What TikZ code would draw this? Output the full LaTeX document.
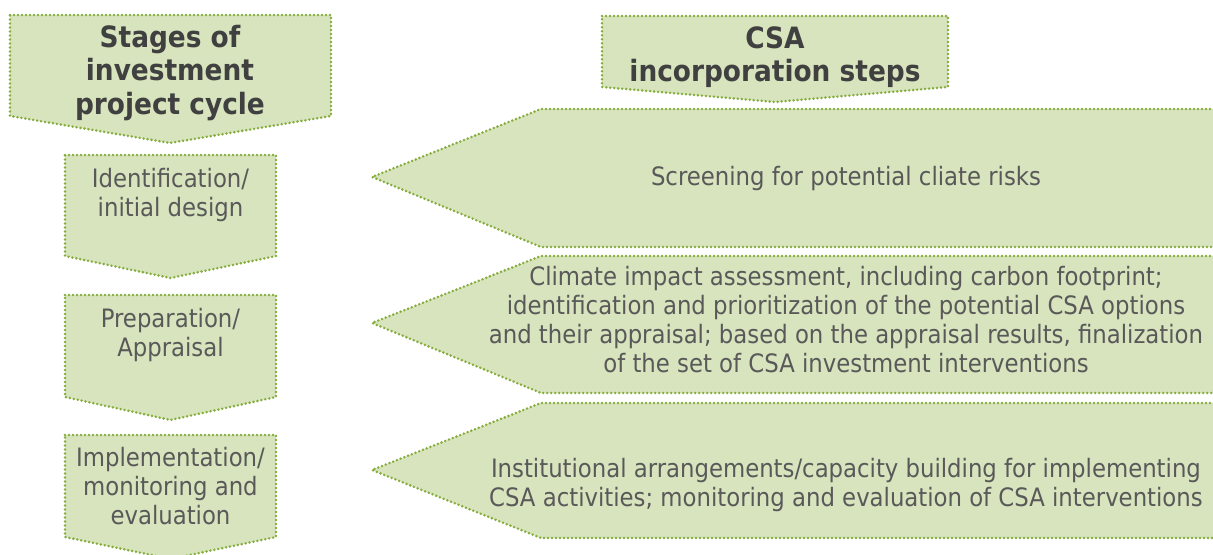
\documentclass[tikz,border=0pt]{standalone}
\usepackage{fontspec}
\setmainfont{DejaVu Sans Condensed}
\definecolor{boxfill}{HTML}{D7E4BD}
\definecolor{boxline}{HTML}{86AC3C}
\definecolor{txtgray}{HTML}{595959}
\definecolor{headgray}{HTML}{404040}

\begin{document}
\begin{tikzpicture}[x=0.75pt, y=-0.75pt,
    stage/.style={fill=boxfill, draw=boxline, line width=2.1pt, line cap=round,
        line join=round, dash pattern=on 0pt off 3pt},
    head/.style={text=headgray, align=center, inner sep=0pt, anchor=north,
        font=\bfseries\fontsize{22}{25}\selectfont},
    body/.style={text=txtgray, align=center, inner sep=0pt, anchor=north,
        font=\fontsize{19}{21.75}\selectfont}]
    \clip (0, 0) rectangle (1213, 555);

    % column headers
    \draw[stage] (10, 15) -- (331, 15) -- (331, 116) -- (170, 143) -- (10, 116) -- cycle;
    \draw[stage] (602, 16) -- (948, 16) -- (948, 87) -- (775, 102) -- (602, 87) -- cycle;
    \node (stages) [head] at (170, 25) {Stages of\\investment\\project cycle};
    \node (csa) [head] at (775, 26) {CSA\\incorporation steps};

    % project cycle stages
    \draw[stage] (65, 155) -- (276, 155) -- (276, 256) -- (170.5, 278) -- (65, 256) -- cycle;
    \draw[stage] (65, 295) -- (276, 295) -- (276, 397) -- (170.5, 420) -- (65, 397) -- cycle;
    \draw[stage] (65, 435) -- (276, 435) -- (276, 537) -- (170.5, 559) -- (65, 537) -- cycle;
    \node (ident) [body] at (170.5, 168) {Identification/\\initial design};
    \node (prep) [body] at (170.5, 308) {Preparation/\\Appraisal};
    \node (impl) [body] at (170.5, 447) {Implementation/\\monitoring and\\evaluation};

    % CSA steps
    \draw[stage] (1230, 109) -- (541, 109) -- (372, 177) -- (541, 247) -- (1230, 247);
    \draw[stage] (1230, 256) -- (541, 256) -- (372, 323) -- (541, 393) -- (1230, 393);
    \draw[stage] (1230, 403) -- (541, 403) -- (372, 470) -- (541, 538) -- (1230, 538);
    \node (screen) [body] at (846, 166) {Screening for potential cliate risks};
    \node (assess) [body] at (846, 266) {Climate impact assessment, including carbon footprint;\\
        identification and prioritization of the potential CSA options\\
        and their appraisal; based on the appraisal results, finalization\\
        of the set of CSA investment interventions};
    \node (inst) [body] at (846, 458) {Institutional arrangements/capacity building for implementing\\
        CSA activities; monitoring and evaluation of CSA interventions};
\end{tikzpicture}
\end{document}
